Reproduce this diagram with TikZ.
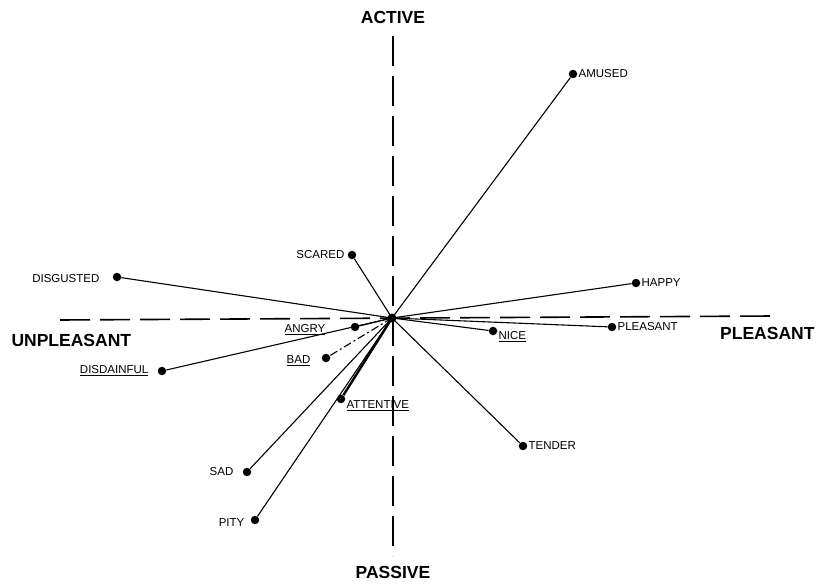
\documentclass[tikz,border=0pt]{standalone}
\usepackage{fontspec}
\setmainfont{Liberation Sans}
\begin{document}
\begin{tikzpicture}[x=1pt,y=-1pt,
    dot/.style={circle,fill,inner sep=0pt,minimum size=8.5pt},
    lbl/.style={font=\fontsize{11.5}{13}\selectfont,inner sep=1pt},
    axislbl/.style={font=\bfseries\fontsize{17.5}{20}\selectfont},
    axisline/.style={line width=1.6pt,dash pattern=on 30pt off 10pt},
    ray/.style={line width=1.1pt}]
    \useasboundingbox (0,0) rectangle (821,583);
    % axes
    \node[axislbl] (active) at (393,17) {ACTIVE};
    \node[axislbl] (passive) at (393,572) {PASSIVE};
    \node[axislbl,anchor=west] (unpl) at (8,340) {UNPLEASANT};
    \node[axislbl,anchor=east] (pl) at (818,333) {PLEASANT};
    \coordinate (top) at (393,36);
    \coordinate (bot) at (393,556);
    \coordinate (left) at (60,320);
    \coordinate (right) at (772,316);
    \coordinate (o) at (392,318);
    \draw[axisline] (top) -- (bot);
    \draw[axisline] (left) -- (right);
    % points
    \node[dot,label={[lbl]right:AMUSED}] (amused) at (573,74) {};
    \node[dot,label={[lbl,xshift=-2pt]left:SCARED}] (scared) at (352,255) {};
    \node[dot,label={[lbl,xshift=-12pt,yshift=-2pt]left:DISGUSTED}] (disgusted) at (117,277) {};
    \node[dot,label={[lbl]right:HAPPY}] (happy) at (636,283) {};
    \node[dot,label={[lbl]right:PLEASANT}] (pleasant) at (612,327) {};
    \node[dot,label={[lbl,yshift=-6pt]right:\underline{NICE}}] (nice) at (493,331) {};
    \node[dot,label={[lbl]right:TENDER}] (tender) at (523,446) {};
    \node[dot,label={[lbl,xshift=-24pt,yshift=-3pt]left:\underline{ANGRY}}] (angry) at (355,327) {};
    \node[dot,label={[lbl,xshift=-10pt,yshift=-3pt]left:\underline{BAD}}] (bad) at (326,358) {};
    \node[dot,label={[lbl,xshift=-8pt]left:\underline{DISDAINFUL}}] (disdainful) at (162,371) {};
    \node[dot,label={[lbl,yshift=-7pt]right:\underline{ATTENTIVE}}] (attentive) at (341,399) {};
    \node[dot,label={[lbl,xshift=-8pt]left:SAD}] (sad) at (247,472) {};
    \node[dot,label={[lbl,xshift=-5pt,yshift=-3pt]left:PITY}] (pity) at (255,520) {};
    % rays from the origin
    \foreach \p in {amused,scared,disgusted,happy,pleasant,nice,tender,angry,disdainful,sad,pity}
        \draw[ray] (o) -- (\p);
    \draw[ray,dash pattern=on 8pt off 3pt on 2pt off 3pt] (o) -- (bad);
    \draw[line width=2.4pt] (o) -- (attentive);
    \fill (o) circle (4.5pt);
\end{tikzpicture}
\end{document}
